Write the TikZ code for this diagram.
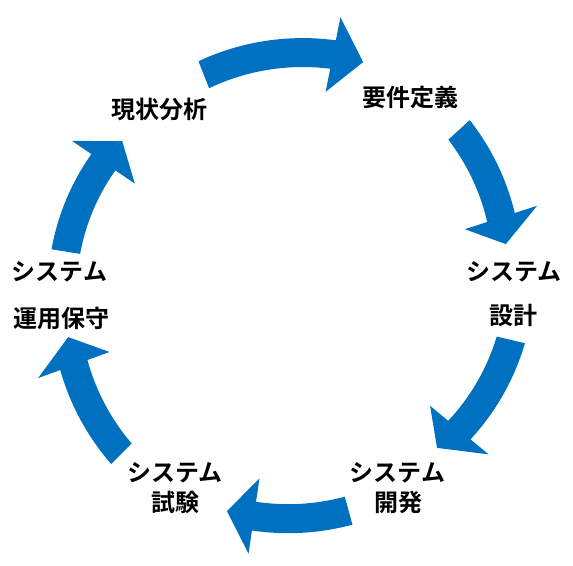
\documentclass[tikz,border=0pt]{standalone}
\usepackage{fontspec}
\newfontfamily\jp{Noto Sans CJK JP}[BoldFont={* Bold}]
\definecolor{arrowblue}{RGB}{0,112,192}
% #1 tail angle, #2 tail radius, #3 head-base angle, #4 head-base radius, #5 tip angle, #6 tip radius
\newcommand{\cycarrow}[6]{%
  \fill[arrowblue]
    plot[domain=#1:#3, samples=40]
      ({287+((#2)+((#4)-(#2))*(\x-(#1))/((#3)-(#1))+14.5)*cos(\x)},
       {287+((#2)+((#4)-(#2))*(\x-(#1))/((#3)-(#1))+14.5)*sin(\x)})
    -- ({287+((#4)+38)*cos(#3)},{287+((#4)+38)*sin(#3)})
    -- ({287+(#6)*cos(#5)},{287+(#6)*sin(#5)})
    -- ({287+((#4)-38)*cos(#3)},{287+((#4)-38)*sin(#3)})
    -- plot[domain=#3:#1, samples=40]
      ({287+((#2)+((#4)-(#2))*(\x-(#1))/((#3)-(#1))-14.5)*cos(\x)},
       {287+((#2)+((#4)-(#2))*(\x-(#1))/((#3)-(#1))-14.5)*sin(\x)})
    -- cycle;}
\tikzset{lbl/.style={font=\jp\bfseries\fontsize{24}{28}\selectfont, text=black, inner sep=0pt, align=center}}
\begin{document}
\begin{tikzpicture}[x=1pt,y=-1pt]
\useasboundingbox (0,0) rectangle (573,565);
% arrows
\cycarrow{-111.4}{228}{-78.8}{237}{-71.3}{237.5}
\cycarrow{-42.4}{233}{-18.0}{225}{-11.1}{223}
\cycarrow{13.3}{230}{39.7}{224}{47.0}{220}
\cycarrow{74.6}{232}{98.2}{231.5}{105.0}{232}
\cycarrow{134.8}{235}{159.9}{227}{167.1}{224.5}
\cycarrow{189.1}{224}{214.2}{222}{221.5}{220}
% labels
\node[lbl] (genjo) at (159,109) {現状分析};
\node[lbl] (yoken) at (410,97.5) {要件定義};
\node[lbl] (sekkei1) at (514,272) {システム};
\node[lbl] (sekkei2) at (513,315) {設計};
\node[lbl] (kaihatsu1) at (397.5,473) {システム};
\node[lbl] (kaihatsu2) at (398.5,502.5) {開発};
\node[lbl] (shiken1) at (175,473) {システム};
\node[lbl] (shiken2) at (175,502) {試験};
\node[lbl] (unyo1) at (59.5,272) {システム};
\node[lbl] (unyo2) at (61.5,318) {運用保守};
\end{tikzpicture}
\end{document}
